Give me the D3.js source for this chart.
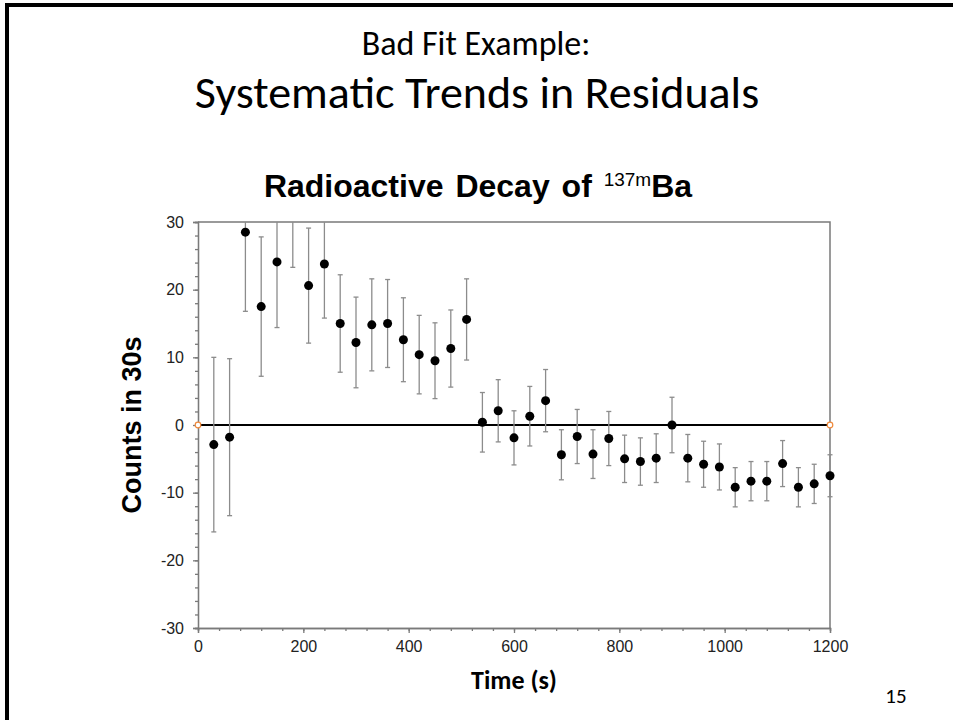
<!DOCTYPE html>
<html>

<head>
	<meta charset="utf-8">
	<script src="https://cdn.jsdelivr.net/npm/d3@7"></script>
	<style>
		body {
			margin: 0;
			background: white;
		}

		.axis path,
		.axis line {
			stroke: #7a7a7a;
			stroke-width: 1.3;
		}

		.axis text {
			font-family: "Liberation Sans", Arial, sans-serif;
			font-size: 16px;
			fill: #222;
		}

		.bar {
			stroke: #8c8c8c;
			stroke-width: 1.3;
		}
	</style>
</head>

<body>
	<svg></svg>
	<script>
		var width = 953;
		var height = 720;

		// plot box inside the slide
		var margins = {
			"left": 198,
			"right": 123,
			"top": 222,
			"bottom": 92
		};

		// residuals, one per 30 s bin
		var times = [30, 60, 90, 120, 150, 180, 210, 240, 270, 300,
			330, 360, 390, 420, 450, 480, 510, 540, 570, 600,
			630, 660, 690, 720, 750, 780, 810, 840, 870, 900,
			930, 960, 990, 1020, 1050, 1080, 1110, 1140, 1170, 1200];
		var residuals = [-2.9, -1.8, 28.5, 17.5, 24.1, 32.8, 20.6, 23.8, 15.0, 12.2,
			14.8, 15.0, 12.6, 10.4, 9.5, 11.3, 15.6, 0.4, 2.1, -1.9,
			1.3, 3.6, -4.4, -1.7, -4.3, -2.0, -5.0, -5.4, -4.9, 0.0,
			-4.9, -5.8, -6.2, -9.2, -8.3, -8.3, -5.7, -9.2, -8.7, -7.5];
		var errors = [12.9, 11.6, 11.7, 10.3, 9.7, 9.5, 8.5, 8.0, 7.2, 6.7,
			6.8, 6.5, 6.2, 5.8, 5.6, 5.7, 6.0, 4.4, 4.6, 4.0,
			4.4, 4.6, 3.7, 4.0, 3.6, 4.0, 3.5, 3.5, 3.6, 4.1,
			3.5, 3.4, 3.4, 2.9, 2.9, 2.9, 3.4, 2.9, 2.9, 3.1];

		var xTicks = [0, 200, 400, 600, 800, 1000, 1200];
		var xMinorTicks = d3.range(0, 1201, 40);
		var yTicks = [-30, -20, -10, 0, 10, 20, 30];
		var yMinorTicks = d3.range(-30, 31, 2);

		var data = times.map((t, i) => ({ t: t, r: residuals[i], e: errors[i] }));

		var svg = d3.select("svg")
			.attr("width", width)
			.attr("height", height);

		// slide frame (only left and top edges show)
		svg.append("path")
			.attr("d", "M7,730 L7,5 L960,5")
			.attr("fill", "none")
			.attr("stroke", "black")
			.attr("stroke-width", 4);

		// slide titles
		var titleFont = "Carlito, Calibri, Lato, 'Open Sans', sans-serif";
		svg.append("text")
			.attr("x", 476).attr("y", 55)
			.attr("text-anchor", "middle")
			.style("font-family", titleFont)
			.style("font-size", "34px")
			.text("Bad Fit Example:");
		svg.append("text")
			.attr("x", 477).attr("y", 108)
			.attr("text-anchor", "middle")
			.style("font-family", titleFont)
			.style("font-size", "46px")
			.text("Systematic Trends in Residuals");

		// chart title with superscript mass number
		var ct = svg.append("text")
			.attr("x", 478).attr("y", 197)
			.attr("text-anchor", "middle")
			.style("font-family", "'Liberation Sans', Arial, sans-serif")
			.style("font-weight", "bold")
			.style("font-size", "32px")
			.style("word-spacing", "3px");
		ct.append("tspan").text("Radioactive Decay of ");
		ct.append("tspan").attr("dy", -11).style("font-size", "19px").style("font-weight", "normal").text("137m");
		ct.append("tspan").attr("dy", 11).text("Ba");

		var x = d3.scaleLinear()
			.domain([0, 1200])
			.range([margins.left, width - margins.right]);
		var y = d3.scaleLinear()
			.domain([-30, 30])
			.range([height - margins.bottom, margins.top]);

		// top and right frame of the plot
		svg.append("path")
			.attr("d", "M" + x(0) + "," + y(30) + "H" + x(1200) + "V" + y(-30))
			.attr("fill", "none")
			.attr("stroke", "#7a7a7a")
			.attr("stroke-width", 1.5);

		// minor ticks first, majors with labels on top (plain hyphen minus like the slide)
		svg.append("g")
			.attr("class", "axis")
			.attr("transform", "translate(0," + y(-30) + ")")
			.call(d3.axisBottom(x).tickValues(xMinorTicks).tickSize(3).tickFormat(""));
		svg.append("g")
			.attr("class", "axis")
			.attr("transform", "translate(0," + y(-30) + ")")
			.call(d3.axisBottom(x).tickValues(xTicks).tickSize(5).tickPadding(8).tickFormat(d => String(d)));
		svg.append("g")
			.attr("class", "axis")
			.attr("transform", "translate(" + x(0) + ",0)")
			.call(d3.axisLeft(y).tickValues(yMinorTicks).tickSize(3).tickFormat(""));
		svg.append("g")
			.attr("class", "axis")
			.attr("transform", "translate(" + x(0) + ",0)")
			.call(d3.axisLeft(y).tickValues(yTicks).tickSize(5).tickPadding(9).tickFormat(d => String(d)));

		// axis labels
		svg.append("text")
			.attr("transform", "translate(141,425) rotate(-90)")
			.attr("text-anchor", "middle")
			.style("font-family", "'Liberation Sans', Arial, sans-serif")
			.style("font-weight", "bold")
			.style("font-size", "27px")
			.text("Counts in 30s");
		svg.append("text")
			.attr("x", x(600)).attr("y", 689)
			.attr("text-anchor", "middle")
			.style("font-family", titleFont)
			.style("font-weight", "bold")
			.style("font-size", "26px")
			.text("Time (s)");

		// zero line with the small orange end markers
		svg.append("line")
			.attr("x1", x(0)).attr("x2", x(1200))
			.attr("y1", y(0)).attr("y2", y(0))
			.attr("stroke", "black")
			.attr("stroke-width", 2);
		svg.selectAll(".endpt")
			.data([0, 1200])
			.enter()
			.append("circle")
			.attr("cx", d => x(d)).attr("cy", y(0))
			.attr("r", 2.8)
			.attr("fill", "white")
			.attr("stroke", "#f08a3c")
			.attr("stroke-width", 1.2);

		// error bars get cut at the plot box
		svg.append("clipPath")
			.attr("id", "clip")
			.append("rect")
			.attr("x", x(0) - 5).attr("y", y(30))
			.attr("width", x(1200) - x(0) + 10)
			.attr("height", y(-30) - y(30));

		var plot = svg.append("g").attr("clip-path", "url(#clip)");
		var bars = plot.selectAll(".err")
			.data(data)
			.enter()
			.append("g")
			.attr("class", "err");
		bars.append("line")
			.attr("class", "bar")
			.attr("x1", d => x(d.t)).attr("x2", d => x(d.t))
			.attr("y1", d => y(d.r + d.e)).attr("y2", d => y(d.r - d.e));
		bars.append("line")
			.attr("class", "bar")
			.attr("x1", d => x(d.t) - 2.5).attr("x2", d => x(d.t) + 2.5)
			.attr("y1", d => y(d.r + d.e)).attr("y2", d => y(d.r + d.e));
		bars.append("line")
			.attr("class", "bar")
			.attr("x1", d => x(d.t) - 2.5).attr("x2", d => x(d.t) + 2.5)
			.attr("y1", d => y(d.r - d.e)).attr("y2", d => y(d.r - d.e));

		plot.selectAll(".pt")
			.data(data)
			.enter()
			.append("circle")
			.attr("class", "pt")
			.attr("cx", d => x(d.t)).attr("cy", d => y(d.r))
			.attr("r", 4.5)
			.attr("fill", "black");

		// slide number
		svg.append("text")
			.attr("x", 896).attr("y", 703)
			.attr("text-anchor", "middle")
			.style("font-family", titleFont)
			.style("font-size", "21px")
			.text("15");
	</script>
</body>

</html>
